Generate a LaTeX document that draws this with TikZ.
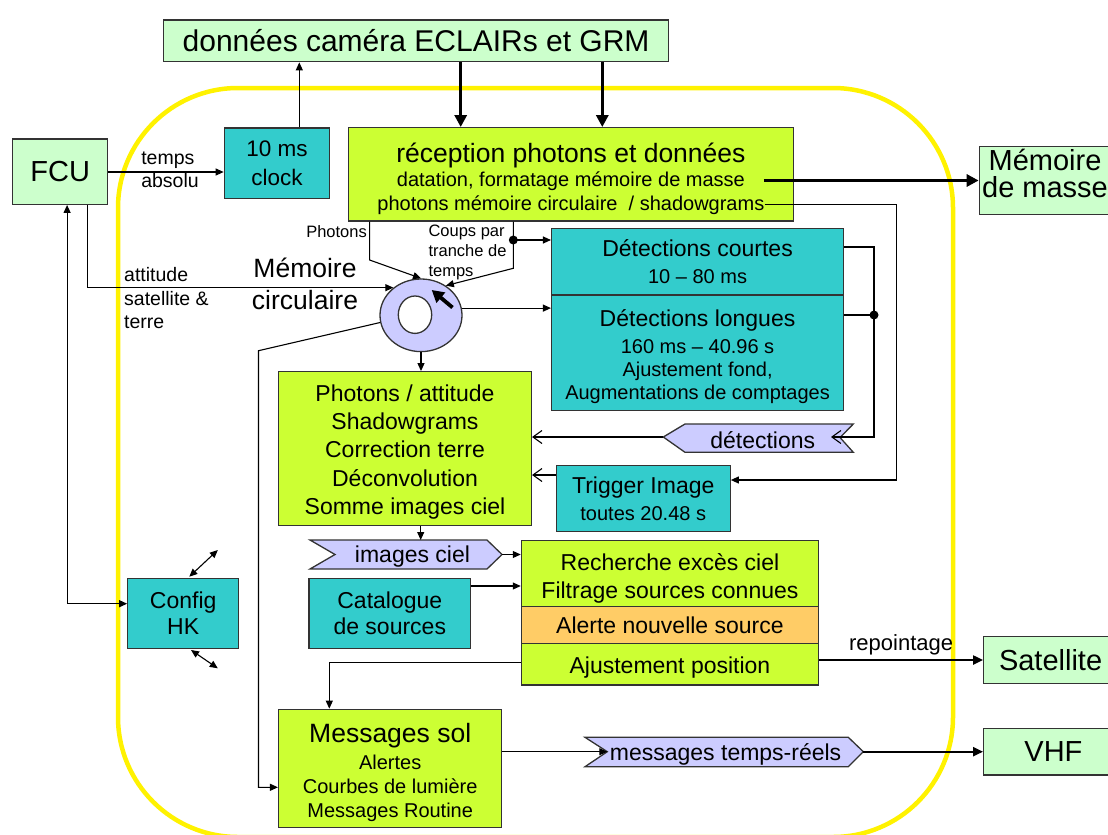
\documentclass[tikz,border=0pt]{standalone}
\usepackage{fontspec}
\setmainfont{Liberation Sans}
\usetikzlibrary{arrows.meta,shapes.geometric}

\definecolor{palegreen}{HTML}{CCFFCC}
\definecolor{limegreen}{HTML}{CCFF33}
\definecolor{tealbox}{HTML}{33CCCC}
\definecolor{lavender}{HTML}{CCCCFF}
\definecolor{alertorange}{HTML}{FFCC66}

\newcommand{\ftitle}{\fontsize{29}{26.7}\selectfont}
\newcommand{\fbig}{\fontsize{26.5}{32}\selectfont}
\newcommand{\fmid}{\fontsize{23}{28.4}\selectfont}
\newcommand{\fsmall}{\fontsize{20}{24}\selectfont}
\newcommand{\flabel}{\fontsize{19.5}{23.5}\selectfont}
\newcommand{\ftiny}{\fontsize{16.5}{20}\selectfont}

\tikzset{
    box/.style={draw=black!80, line width=1.3pt, inner sep=0pt, align=center},
    extbox/.style={box, fill=palegreen, font=\ftitle},
    procbox/.style={box, fill=limegreen, font=\fmid},
    unitbox/.style={box, fill=tealbox, font=\fmid},
    tag/.style={draw=black!80, line width=1.3pt, fill=lavender},
    link/.style={line width=1.1pt, -{Triangle[length=8pt,width=7pt]}},
    dbllink/.style={line width=1.1pt, {Triangle[length=8pt,width=7pt]}-{Triangle[length=8pt,width=7pt]}},
    openlink/.style={line width=1.1pt, -{Straight Barb[length=9pt,width=13pt]}},
    heavy/.style={line width=3.5pt, -{Triangle[length=12pt,width=12pt]}},
    bold/.style={line width=2.2pt, -{Triangle[length=10pt,width=9pt]}},
    lbl/.style={inner sep=0pt, align=left}
}

\begin{document}
\begin{tikzpicture}[x=1pt, y=-1pt]

    \useasboundingbox (0,0) rectangle (1108,835);

    % Yellow frame
    \draw[yellow, line width=4.5pt, rounded corners=120pt] (118,88) rectangle (953,837);

    % Outside boxes
    \node[extbox, minimum width=505, minimum height=41.7, font=\fontsize{30}{34}\selectfont] (cam) at (416.1,40.85) {données caméra ECLAIRs et GRM};
    \node[extbox, minimum width=95.3, minimum height=65.3] (fcu) at (60.15,171.65) {FCU};
    \node[extbox, minimum width=131.4, minimum height=67.6] (mass) at (1045,180.5) {Mémoire\\de masse\rule[-14pt]{0pt}{0pt}};
    \node[extbox, minimum width=133.8, minimum height=46.6] (sat) at (1050.6,660) {Satellite};
    \node[extbox, minimum width=139.4, minimum height=46.7] (vhf) at (1053.4,751.7) {VHF};

    % Processing boxes
    \node[unitbox, minimum width=105.3, minimum height=70.3, font=\fontsize{22.5}{28.3}\selectfont] (clock) at (276.95,163.15) {10 ms\\clock};
    \node[procbox, minimum width=445.4, minimum height=93.3, font=\fsmall] (recep) at (570.9,174.35)
        {{\fbig\rule{0pt}{28.3pt}réception photons et données}\\[0.5pt]datation, formatage mémoire de masse\\photons mémoire circulaire\ \ / shadowgrams};
    \node[unitbox, minimum width=291.9, minimum height=66, font=\fontsize{20}{26.7}\selectfont] (courtes) at (697.55,261.7)
        {{\fmid Détections courtes}\\10 -- 80 ms};
    \node[unitbox, minimum width=291.9, minimum height=115.3, font=\fontsize{20}{23.4}\selectfont] (longues) at (697.55,352.65)
        {{\fmid\rule{0pt}{24.8pt}Détections longues}\\[3.6pt]160 ms -- 40.96 s\\Ajustement fond,\\Augmentations de comptages};
    \node[procbox, minimum width=252.8, minimum height=154] (photo) at (405,448.7)
        {\rule{0pt}{23.3pt}Photons / attitude\\Shadowgrams\\Correction terre\\Déconvolution\\Somme images ciel};
    \node[unitbox, minimum width=173.9, minimum height=65.6, font=\fontsize{20}{26.6}\selectfont] (trig) at (643.25,498.5)
        {{\fmid Trigger Image}\\toutes 20.48 s};
    \node[procbox, minimum width=297.1, minimum height=66] (rech) at (669.95,573.7) {\rule{0pt}{25.8pt}Recherche excès ciel\\Filtrage sources connues};
    \node[box, fill=alertorange, font=\fmid, minimum width=297.1, minimum height=36.6] (alerte) at (669.95,625) {Alerte nouvelle source};
    \node[procbox, minimum width=297.1, minimum height=41.7] (ajust) at (669.95,664.15) {\rule{0pt}{22.8pt}Ajustement position};
    \node[unitbox, minimum width=110.8, minimum height=70, font=\fontsize{23}{26.7}\selectfont] (config) at (183.2,613.3) {Config\\HK};
    \node[unitbox, minimum width=161.8, minimum height=70, font=\fontsize{23}{26.7}\selectfont] (catal) at (389.8,613.3) {Catalogue\\de sources};
    \node[procbox, minimum width=223.2, minimum height=118, font=\fsmall] (msg) at (390.2,768.3)
        {{\fbig\rule{0pt}{27.3pt}Messages sol}\\[2.4pt]Alertes\\Courbes de lumière\\Messages Routine};

    % Circular memory
    \node[ellipse, draw=black!80, line width=1.3pt, fill=lavender, minimum width=82, minimum height=72.6, inner sep=0pt] (ring) at (421,315.3) {};
    \node[ellipse, draw=black!80, line width=1.3pt, fill=white, minimum width=33.4, minimum height=37.4, inner sep=0pt] (hole) at (415,314.7) {};
    \coordinate (ringA) at (452.5,307.5);
    \coordinate (ringB) at (431.7,290);
    \draw[line width=3.8pt, -{Triangle[length=12pt,width=13pt]}] (ringA) -- (ringB);

    % Tags
    \draw[tag] (310,540) -- (487,540) -- (502,554.5) -- (487,569) -- (310,569) -- (335,554.5) -- cycle;
    \node[font=\fmid] (ciel) at (412.5,557) {images ciel};
    \coordinate (cielE) at (502,554.5);
    \draw[tag] (663.3,437) -- (685,424) -- (853.3,424) -- (840,437.5) -- (853.3,452.3) -- (685,452.3) -- cycle;
    \node[font=\fmid] (det) at (762.7,440) {détections};
    \coordinate (detW) at (663.3,437);
    \draw[tag] (585,737.3) -- (848.3,737.3) -- (863.3,751.7) -- (848.3,766.7) -- (585,766.7) -- (607.3,751.7) -- cycle;
    \node[font=\fmid] (rt) at (725.6,754.5) {messages temps-réels};
    \coordinate (rtW) at (607.3,751.7);
    \coordinate (rtE) at (863.3,751.7);

    % Labels
    \node[lbl, font=\flabel] (tabs) at (170,170) {temps\\absolu};
    \node[lbl, font=\fbig, align=center] (memc) at (305,284) {Mémoire\\circulaire};
    \node[lbl, font=\flabel, anchor=west] (att) at (124,298.5) {attitude\\satellite \&\\terre};
    \node[lbl, font=\ftiny, anchor=east] (phl) at (367,232) {Photons};
    \node[lbl, font=\ftiny, anchor=west] (cpl) at (428.3,252) {Coups par\\tranche de\\temps};

    % Arrows
    \draw[link] (299.3,0 |- clock.north) -- (299.3,0 |- cam.south);
    \draw[heavy] (460.7,0 |- cam.south) -- (460.7,0 |- recep.north);
    \draw[heavy] (602.3,0 |- cam.south) -- (602.3,0 |- recep.north);
    \draw[link] (fcu.east |- 0,172) -- (clock.west |- 0,172);
    \draw[heavy] (763.8,0 |- mass.west) -- (mass.west);
    \coordinate (shd) at (764.6,204.3);
    \draw[link] (shd) -- (896.8,204.3) -- (896.8,480) -- (trig.east |- 0,480);
    \draw[link] (369.6,0 |- recep.south) -- (369.6,260) -- (ring.north);
    \draw[link] (513.3,0 |- recep.south) -- (513.3,268.3) -- (ring.50);
    \coordinate (split) at (513.3,240);
    \fill (split) circle (4.5);
    \draw[link] (split) -- (split -| courtes.west);
    \draw[link] (87.5,0 |- fcu.south) -- (87.5,0 |- ring.135) -- (ring.135);
    \draw[link] (ring.10) -- (ring.10 -| longues.west);
    \draw[link] (ring.south) -- (ring.south |- photo.north);
    \draw[link] (ring.190) -- (258.5,350.7) -- (258.5,787.3) -- (msg.west |- 0,787.3);

    % Detections back to imaging
    \coordinate (join) at (874,315);
    \draw[openlink] (courtes.east |- 0,247) -- (874,247) -- (874,437) -- (831,437);
    \draw[line width=1.1pt] (longues.east |- join) -- (join);
    \fill (join) circle (4.5);
    \draw[openlink] (detW) -- (detW -| photo.east);
    \draw[openlink] (trig.west |- 0,475) -- (photo.east |- 0,475);

    % Sky images and sources
    \draw[link] (420.7,0 |- photo.south) -- (420.7,540);
    \draw[link] (cielE) -- (cielE -| rech.west);
    \draw[link] (catal.east |- 0,586) -- (rech.west |- 0,586);

    % Config HK
    \draw[dbllink] (config.west |- 0,603.7) -- (67.1,603.7) -- (67.1,0 |- fcu.south);
    \coordinate (cfgA) at (189.3,576.7);
    \coordinate (cfgB) at (217.8,550);
    \coordinate (cfgC) at (191,650);
    \coordinate (cfgD) at (217.8,668.3);
    \draw[dbllink] (cfgA) -- (cfgB);
    \draw[dbllink] (cfgC) -- (cfgD);

    % Outputs
    \draw[link] (ajust.west |- 0,662.3) -- (329.3,662.3) -- (329.3,0 |- msg.north);
    \draw[bold] (ajust.east |- sat.west) -- (sat.west) node[midway, above=1pt, font=\fontsize{22}{26}\selectfont] (repo) {repointage};
    \draw[link] (msg.east |- rtW) -- (rtW);
    \draw[bold] (rtE) -- (rtE -| vhf.west);

\end{tikzpicture}
\end{document}
